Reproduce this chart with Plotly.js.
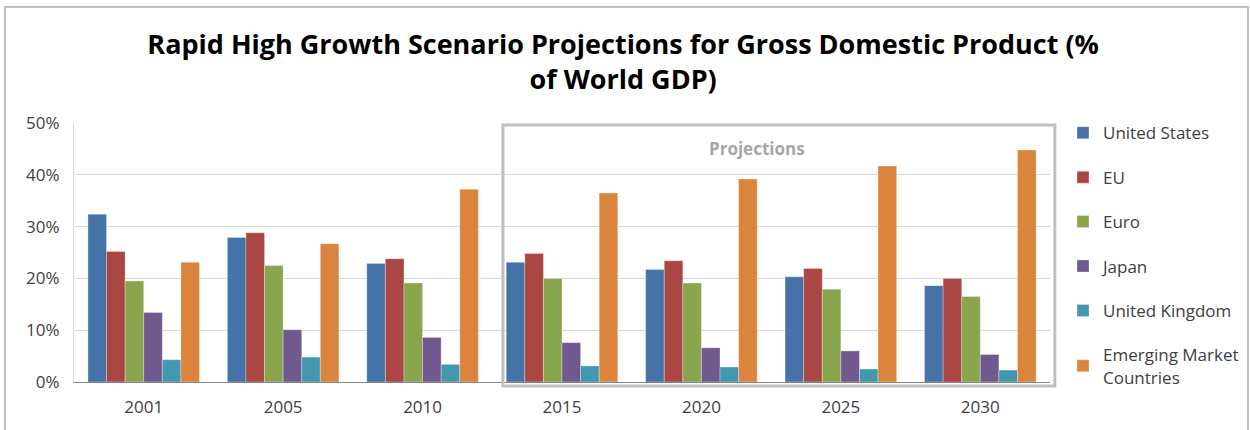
<!DOCTYPE html>
<html><head><meta charset="utf-8">
<script src="https://cdn.plot.ly/plotly-3.0.1.min.js"></script>
<style>
html,body{margin:0;padding:0;background:#fff;overflow:hidden;width:1250px;height:430px}
#chart{position:absolute;left:0;top:0;width:1250px;height:430px}
#frame{position:absolute;left:4px;top:6px;width:1241px;height:460px;border:2px solid #bfbfbf;pointer-events:none}
</style></head>
<body>
<div id="chart"></div>
<div id="frame"></div>
<script>
const years = ['2001','2005','2010','2015','2020','2025','2030'];
const seriesNames = ['United States','EU','Euro','Japan','United Kingdom','Emerging Market<br>Countries'];
const unitedStates = [32.4, 27.9, 22.9, 23.1, 21.7, 20.3, 18.6];
const eu = [25.2, 28.8, 23.8, 24.8, 23.4, 21.9, 20.0];
const euro = [19.5, 22.5, 19.1, 20.0, 19.1, 17.9, 16.5];
const japan = [13.4, 10.1, 8.6, 7.6, 6.6, 6.0, 5.3];
const unitedKingdom = [4.3, 4.8, 3.4, 3.1, 2.9, 2.5, 2.3];
const emerging = [23.1, 26.7, 37.2, 36.5, 39.2, 41.7, 44.8];
const colors = ['#4572A7','#AA4643','#89A54E','#71588F','#4198AF','#DB843D'];
const allSeries = [unitedStates, eu, euro, japan, unitedKingdom, emerging];

const traces = allSeries.map((vals, i) => ({
  type: 'bar', x: years, y: vals, name: seriesNames[i], legendgroup: 'g' + i,
  marker: {color: colors[i], line: {color: 'rgba(255,255,255,0.6)', width: 0.5}},
  hoverinfo: 'x+y+name'
}));

const layout = {
  width: 1250, height: 430,
  margin: {l: 74, r: 200, t: 123, b: 48, autoexpand: false},
  paper_bgcolor: '#ffffff', plot_bgcolor: '#ffffff',
  font: {family: '"Open Sans", "DejaVu Sans", sans-serif', size: 16, color: '#404040'},
  title: {
    text: 'Rapid High Growth Scenario Projections for Gross Domestic Product (%<br>of World GDP)',
    font: {family: '"Open Sans", sans-serif', size: 27, color: '#000000', weight: 'bold'},
    x: 0.4985, xanchor: 'center', y: 0.875, yanchor: 'top'
  },
  barmode: 'group', bargap: 0.2, bargroupgap: 0,
  xaxis: {
    type: 'category', range: [-0.5, 6.5], autorange: false,
    showgrid: false, showline: true, linecolor: '#868686', linewidth: 1,
    ticks: '', tickfont: {size: 17, color: '#404040'}, ticklabelstandoff: 10, fixedrange: true
  },
  yaxis: {
    range: [0, 50], autorange: false, dtick: 10, ticksuffix: '%', showgrid: true, gridcolor: '#d9d9d9', gridwidth: 1,
    showline: true, linecolor: '#d9d9d9', zeroline: false, ticks: '',
    tickfont: {size: 17, color: '#404040'}, ticklabelstandoff: 10, fixedrange: true
  },
  legend: {
    xref: 'container', yref: 'container', maxheight: 1,
    x: 0.8504, xanchor: 'left', y: 0.732, yanchor: 'top', traceorder: 'grouped',
    tracegroupgap: 19.3, font: {size: 17, color: '#404040'}, itemwidth: 30
  },
  shapes: [{
    type: 'rect', xref: 'paper', yref: 'paper', x0: 0.4395, x1: 1.005, y0: -0.015, y1: 0.992,
    line: {color: '#bfbfbf', width: 3}, fillcolor: 'rgba(0,0,0,0)'
  }],
  annotations: [{
    text: '<b>Projections</b>', xref: 'paper', yref: 'y', x: 0.70, xanchor: 'center', y: 45, showarrow: false,
    font: {size: 17, color: '#a6a6a6'}
  }]
};

Plotly.newPlot('chart', traces, layout, {staticPlot: true});
</script>
</body></html>
